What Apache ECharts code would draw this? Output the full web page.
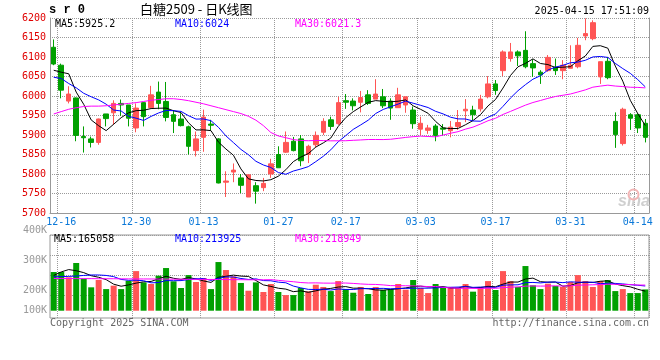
<!DOCTYPE html>
<html><head><meta charset="utf-8">
<script src="https://cdn.jsdelivr.net/npm/echarts@6/dist/echarts.min.js"></script>
<style>html,body{margin:0;padding:0;background:#fff}#c{width:660px;height:360px}#err{position:absolute;left:60px;top:120px;color:#f00;font:11px monospace;white-space:pre}</style>
</head><body><div id="c"></div><div id="err"></div>
<script>
window.onerror = function (m) { document.getElementById('err').textContent += m + '\n'; };
// ---------- data ----------
const dates = ['12-13','12-16','12-17','12-18','12-19','12-20','12-23','12-24','12-25','12-26','12-27','12-30','12-31',
'01-02','01-03','01-06','01-07','01-08','01-09','01-10','01-13','01-14','01-15','01-16','01-17','01-20','01-21','01-22','01-23','01-24','01-27',
'02-05','02-06','02-07','02-10','02-11','02-12','02-13','02-14','02-17','02-18','02-19','02-20','02-21','02-24','02-25','02-26','02-27','02-28',
'03-03','03-04','03-05','03-06','03-07','03-10','03-11','03-12','03-13','03-14','03-17','03-18','03-19','03-20','03-21','03-24','03-25','03-26','03-27','03-28','03-31',
'04-01','04-02','04-03','04-07','04-08','04-09','04-10','04-11','04-14','04-15'];
const opens = [6125,6079,5987,5995,5896,5890,5881,5954,5957,5981, 5977,5918,5983,5970,6010,5986,5952,5941,5921,5860,
 5894,5928,5890,5779,5805,5790,5741,5770,5765,5800, 5850,5856,5884,5890,5850,5875,5907,5939,5929,5988,
 5987,5984,6003,5992,5998,5987,5970,5977,5964,5915, 5912,5923,5918,5911,5922,5962,5964,5967,5998,6031,
 6065,6096,6113,6117,6083,6061,6065,6074,6065,6071, 6075,6154,6147,6049,6089,5935,5878,5952,5952,5930];
const closes = [6082,6015,6005,5899,5893,5881,5941,5942,5981,5977, 5943,5969,5947,6003,5981,5945,5935,5924,5871,5890,
 5946,5925,5777,5782,5810,5771,5798,5756,5776,5826, 5816,5881,5860,5834,5871,5899,5935,5922,5983,5984,
 5975,5996,5981,6005,5975,5969,6003,5998,5929,5930, 5918,5899,5915,5920,5932,5966,5952,5992,6031,6014,
 6113,6113,6103,6075,6072,6054,6099,6065,6079,6079, 6130,6160,6188,6088,6047,5901,5966,5943,5918,5894];
const lows = [6079,5994,5981,5884,5855,5868,5875,5922,5926,5949, 5922,5907,5922,5969,5966,5935,5905,5922,5850,5845,
 5857,5911,5776,5741,5779,5751,5741,5724,5756,5790, 5816,5854,5858,5820,5828,5868,5900,5913,5926,5967,
 5963,5958,5977,5992,5969,5939,5970,5957,5916,5900, 5903,5884,5899,5894,5913,5933,5936,5960,5994,6003,
 6051,6088,6077,6071,6049,6031,6062,6054,6043,6071, 6071,6143,6143,6031,6043,5867,5873,5913,5905,5881];
const highs = [6145,6083,6025,5996,5922,5896,5942,5954,5989,5991, 5977,5981,5984,6026,6037,6036,5964,5956,5924,5909,
 5965,5939,5892,5807,5827,5800,5798,5779,5790,5839, 5871,5909,5895,5900,5875,5909,5943,5947,5998,6005,
 5994,6013,6015,6043,6018,5994,6021,5998,5973,5947, 5926,5928,5928,5936,5964,5992,5975,6003,6051,6041,
 6117,6136,6117,6166,6094,6066,6105,6096,6092,6130, 6149,6199,6194,6088,6100,5958,5970,5956,5956,5941];
// volume in thousands (K)
const volumesK = [329,329,284,406,272,199,261,184,213,184, 255,337,241,227,298,363,250,193,303,244,
 278,184,414,346,292,236,170,241,159,227, 159,133,133,193,165,221,202,167,252,184,
 153,202,142,202,176,184,227,179,261,193, 150,227,193,202,193,227,162,202,252,176,
 337,252,202,380,216,184,230,210,202,244, 303,252,202,252,261,167,184,150,150,181];
// moving-average values before a full window is visible
const ma5Head = [6066,6061,6057,6010];
const ma10Head = [6048,6045,6032,6021,6007,5998,5990,5979,5964];
const ma30Head = [5954,5960,5966,5970,5973,5974,5974,5975,5977,5979,5981,5983,5986,5989,5991,5993,5993,5991,5988,5984,5980,5975,5970,5965,5960,5955,5948,5938,5924];
const vma5Head = [300,330,350,340];
const vma10Head = [289,290,292,295,300,304,304,300,290];
const vma30Head = [274,274,274,273,273,273,272,272,272,271,271,270,270,270,269,269,268,268,267,267,266,266,265,265,264,264,263,263,263];
// tick labels
const tickDates = ['12-16','12-30','01-13','01-27','02-17','03-03','03-17','03-31','04-14'];
const priceTicks = [5700,5750,5800,5850,5900,5950,6000,6050,6100,6150,6200];
const volTicksK = [100,200,300,400];
// header texts
const priceMaValues = ['5925.2','6024','6021.3'];
const volMaValues = ['165058','213925','218949'];
const symbolText = 's r 0';
const titleText = '白糖2509 - 日K线图';
const timeText = '2025-04-15 17:51:09';

// ---------- helpers ----------
function movingAverage(src, n, head) {
  return src.map((_, i) => {
    if (i < n - 1) return head[i];
    let s = 0; for (let k = i - n + 1; k <= i; k++) s += src[k];
    return +(s / n).toFixed(2);
  });
}
const RED = '#ff5555', GREEN = '#00a000';
const MONO = '"DejaVu Sans Mono", monospace';
const GRIDC = '#9a9a9a';
const isTick = (i, v) => tickDates.indexOf(v) >= 0;
const candles = dates.map((d, i) => [opens[i], closes[i], lows[i], highs[i]]);
const volBars = volumesK.map((v, i) => ({ value: v, itemStyle: { color: closes[i] >= opens[i] ? RED : GREEN } }));
const dotted = () => ({ color: GRIDC, type: 'dotted', width: 1 });

const chart = echarts.init(document.getElementById('c'), null, { renderer: 'canvas' });
chart.setOption({
  animation: false,
  backgroundColor: '#fff',
  grid: [
    { left: 50, top: 18, width: 599, height: 195 },
    { left: 50, top: 235, width: 599, height: 83, show: true, borderColor: '#999', borderWidth: 1, backgroundColor: 'transparent' },
    { left: 50, top: 230.7, width: 599, height: 90 }
  ],
  xAxis: [
    { type: 'category', gridIndex: 0, data: dates, boundaryGap: true,
      axisLine: { show: true, lineStyle: { color: '#999' } }, axisTick: { show: false },
      axisLabel: { interval: isTick, color: '#0a78d8', fontFamily: MONO, fontSize: 10, margin: 4 },
      splitLine: { show: true, interval: isTick, lineStyle: dotted() } },
    { type: 'category', gridIndex: 1, data: dates, boundaryGap: true,
      axisLine: { show: false }, axisTick: { show: false }, axisLabel: { show: false },
      splitLine: { show: true, interval: isTick, lineStyle: dotted() } },
    { type: 'value', gridIndex: 2, show: false }
  ],
  yAxis: [
    { type: 'value', gridIndex: 0, min: priceTicks[0], max: priceTicks[priceTicks.length - 1], interval: priceTicks[1] - priceTicks[0],
      axisLine: { show: true, lineStyle: { color: '#999' } }, axisTick: { show: false },
      axisLabel: { color: '#e00000', fontFamily: MONO, fontSize: 10, margin: 4, formatter: v => String(v) },
      splitLine: { show: true, lineStyle: dotted() } },
    { type: 'value', gridIndex: 1, min: -62, max: 644, show: false, splitLine: { show: false } },
    { type: 'value', gridIndex: 1, min: 0, max: 83, interval: 20, inverse: true,
      axisLine: { show: false }, axisTick: { show: false }, axisLabel: { show: false },
      splitLine: { show: true, lineStyle: { color: [GRIDC, GRIDC, GRIDC, GRIDC, 'rgba(0,0,0,0)', 'rgba(0,0,0,0)'], type: 'dotted', width: 1 } } },
    { type: 'value', gridIndex: 2, min: volTicksK[0], max: volTicksK[volTicksK.length - 1], interval: volTicksK[1] - volTicksK[0],
      axisLine: { show: false }, axisTick: { show: false }, splitLine: { show: false },
      axisLabel: { margin: 3, color: '#999', fontFamily: MONO, fontSize: 10,
        formatter: v => v === volTicksK[0] ? '{lift|' + v + 'K}' : v + 'K',
        rich: { lift: { color: '#999', fontFamily: MONO, fontSize: 10, padding: [0, 0, 20, 0] } } } },
    { type: 'value', gridIndex: 0, position: 'right', min: priceTicks[0], max: priceTicks[priceTicks.length - 1],
      axisLine: { show: true, lineStyle: { color: '#999' } }, axisTick: { show: false }, axisLabel: { show: false }, splitLine: { show: false } }
  ],
  series: [
    { type: 'candlestick', xAxisIndex: 0, yAxisIndex: 0, data: candles, barWidth: 5,
      itemStyle: { color: RED, color0: GREEN, borderColor: RED, borderColor0: GREEN, borderWidth: 1 } },
    { type: 'line', xAxisIndex: 0, yAxisIndex: 0, data: movingAverage(closes, 5, ma5Head), symbol: 'none', lineStyle: { color: '#000', width: 1 }, z: 5 },
    { type: 'line', xAxisIndex: 0, yAxisIndex: 0, data: movingAverage(closes, 10, ma10Head), symbol: 'none', lineStyle: { color: '#0000ff', width: 1 }, z: 5 },
    { type: 'line', xAxisIndex: 0, yAxisIndex: 0, data: movingAverage(closes, 30, ma30Head), symbol: 'none', lineStyle: { color: '#ff00ff', width: 1 }, z: 5 },
    { type: 'bar', xAxisIndex: 1, yAxisIndex: 1, data: volBars, barWidth: 6 },
    { type: 'line', xAxisIndex: 1, yAxisIndex: 1, data: movingAverage(volumesK, 5, vma5Head), symbol: 'none', lineStyle: { color: '#000', width: 1 }, z: 5 },
    { type: 'line', xAxisIndex: 1, yAxisIndex: 1, data: movingAverage(volumesK, 10, vma10Head), symbol: 'none', lineStyle: { color: '#0000ff', width: 1 }, z: 5 },
    { type: 'line', xAxisIndex: 1, yAxisIndex: 1, data: movingAverage(volumesK, 30, vma30Head), symbol: 'none', lineStyle: { color: '#ff00ff', width: 1 }, z: 5 }
  ],
  graphic: [
    { type: 'text', left: 49, top: 4, style: { text: symbolText, font: 'bold 12px "Liberation Mono"', fill: '#000' } },
    { type: 'text', left: 140, top: 3, style: { text: titleText, font: '13px "Noto Sans CJK SC"', fill: '#000' } },
    { type: 'text', right: 11, top: 6, style: { text: timeText, font: '10px ' + MONO, fill: '#000' } },
    { type: 'text', left: 55, top: 19, z: 10, style: { text: 'MA5:' + priceMaValues[0], font: '10px ' + MONO, fill: '#000' } },
    { type: 'text', left: 175, top: 19, z: 10, style: { text: 'MA10:' + priceMaValues[1], font: '10px ' + MONO, fill: '#0000ff' } },
    { type: 'text', left: 295, top: 19, z: 10, style: { text: 'MA30:' + priceMaValues[2], font: '10px ' + MONO, fill: '#ff00ff' } },
    { type: 'text', left: 54, top: 234, z: 10, style: { text: 'MA5:' + volMaValues[0], font: '10px ' + MONO, fill: '#000' } },
    { type: 'text', left: 175, top: 234, z: 10, style: { text: 'MA10:' + volMaValues[1], font: '10px ' + MONO, fill: '#0000ff' } },
    { type: 'text', left: 295, top: 234, z: 10, style: { text: 'MA30:' + volMaValues[2], font: '10px ' + MONO, fill: '#ff00ff' } },
    { type: 'text', left: 50, top: 318, style: { text: 'Copyright 2025 SINA.COM', font: '10px ' + MONO, fill: '#666' } },
    { type: 'text', right: 11, top: 318, style: { text: 'http://finance.sina.com.cn', font: '10px ' + MONO, fill: '#666' } },
    { type: 'text', left: 618, top: 194, z: 1, style: { text: 'sina', font: 'italic bold 16px "Liberation Sans"', fill: '#cfcfcf' } },
    { type: 'circle', left: 626, top: 187, z: 1, shape: { r: 5 }, style: { fill: 'none', stroke: '#f3b5b5', lineWidth: 2 } }
  ]
});
</script></body></html>
